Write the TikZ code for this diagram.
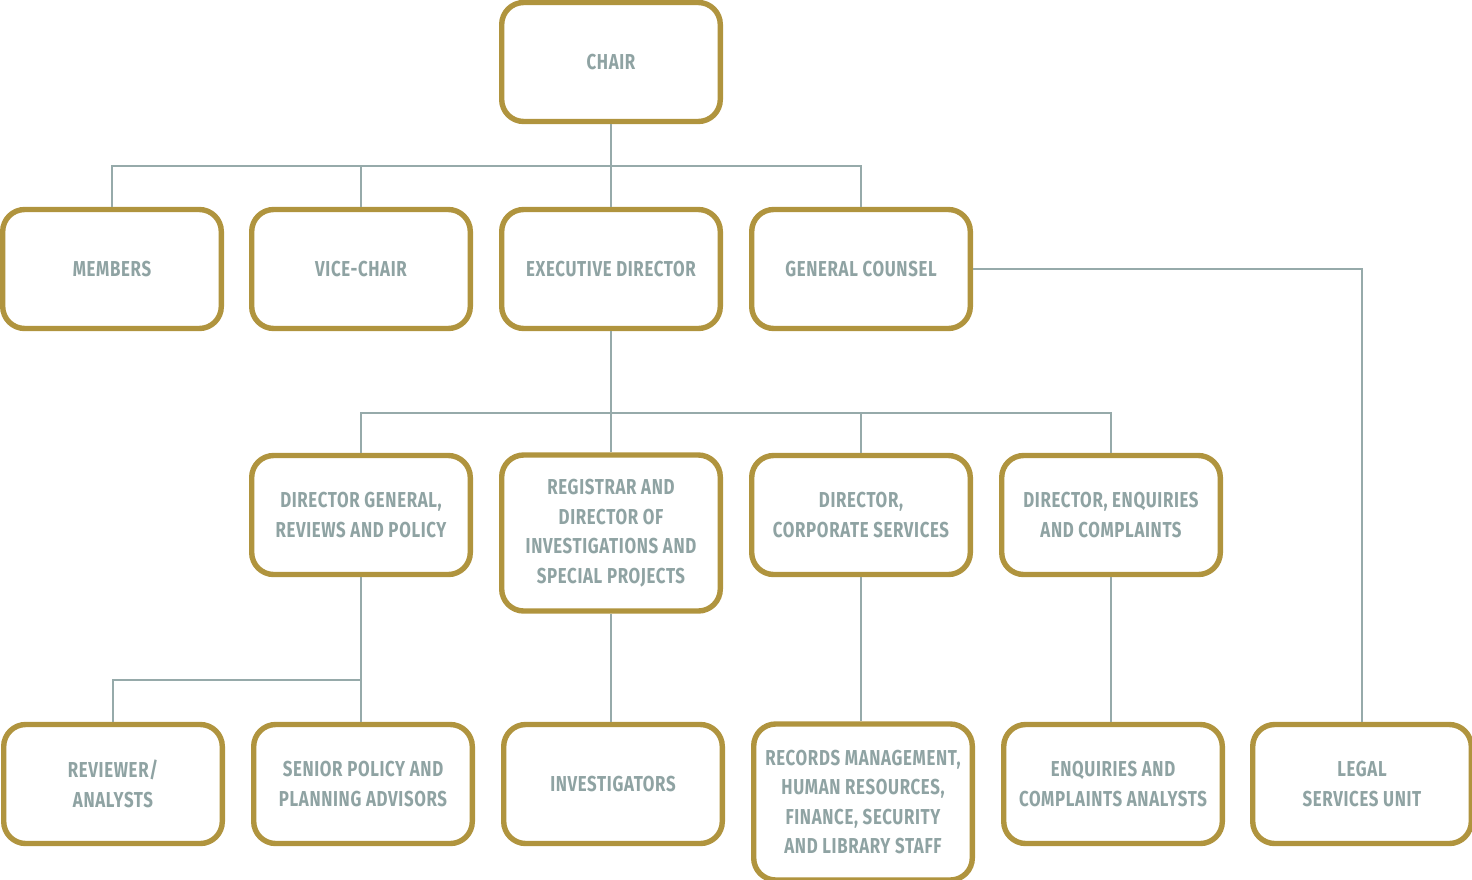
\documentclass[tikz,border=0pt]{standalone}
\usepackage{fontspec}
\setmainfont{Fira Sans}[FakeStretch=0.78,LetterSpace=3]
\definecolor{gold}{RGB}{176,148,62}
\definecolor{txt}{RGB}{143,163,163}
\definecolor{conn}{RGB}{150,170,170}
\begin{document}
\begin{tikzpicture}[x=0.5pt,y=-0.5pt,
  box/.style={draw=gold, fill=white, line width=2.7pt, rounded corners=11pt,
    minimum width=109.3pt, minimum height=59.5pt, inner sep=0pt, align=center,
    text=txt, font=\fontsize{10.8}{14.75}\selectfont\bfseries},
  tall/.style={minimum height=78pt},
  link/.style={draw=conn, line width=1pt}]
\useasboundingbox (0,0) rectangle (1472,879);
\node[box] (chair) at (611,62) {CHAIR};
\node[box] (members) at (112,269) {MEMBERS};
\node[box] (vice) at (361,269) {VICE-CHAIR};
\node[box] (exec) at (611,269) {EXECUTIVE DIRECTOR};
\node[box] (counsel) at (861,269) {GENERAL COUNSEL};
\node[box] (dgr) at (361,515) {DIRECTOR GENERAL,\\REVIEWS AND POLICY};
\node[box,tall] (reg) at (611,533) {REGISTRAR AND\\DIRECTOR OF\\INVESTIGATIONS AND\\SPECIAL PROJECTS};
\node[box] (dcs) at (861,515) {DIRECTOR,\\CORPORATE SERVICES};
\node[box] (dec) at (1111,515) {DIRECTOR, ENQUIRIES\\AND COMPLAINTS};
\node[box] (rev) at (113,784) {REVIEWER/\\ANALYSTS};
\node[box] (spa) at (363,784) {SENIOR POLICY AND\\PLANNING ADVISORS};
\node[box] (inv) at (613,784) {INVESTIGATORS};
\node[box,tall] (rec) at (863,802) {RECORDS MANAGEMENT,\\HUMAN RESOURCES,\\FINANCE, SECURITY\\AND LIBRARY STAFF};
\node[box] (eca) at (1113,784) {ENQUIRIES AND\\COMPLAINTS ANALYSTS};
\node[box] (lsu) at (1362,784) {LEGAL\\SERVICES UNIT};
\coordinate (b1) at (611,166);
\coordinate (b2) at (611,413);
\coordinate (b3) at (361,680);
\draw[link] (chair.south) -- (exec.north);
\draw[link] (members.north) |- (b1) -| (counsel.north);
\draw[link] (vice.north) -- (vice.north |- b1);
\draw[link] (exec.south) -- (reg.north);
\draw[link] (dgr.north) |- (b2) -| (dec.north);
\draw[link] (dcs.north) -- (dcs.north |- b2);
\draw[link] (dgr.south) -- (dgr.south |- spa.north);
\draw[link] (rev.north) |- (b3);
\draw[link] (reg.south) -- (reg.south |- inv.north);
\draw[link] (dcs.south) -- (dcs.south |- rec.north);
\draw[link] (dec.south) -- (dec.south |- eca.north);
\draw[link] (counsel.east) -| (lsu.north);
\end{tikzpicture}
\end{document}
